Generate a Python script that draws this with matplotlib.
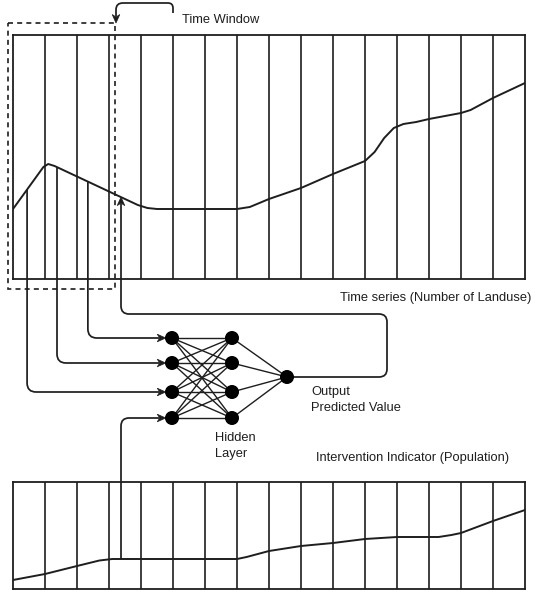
import numpy as np
import matplotlib
matplotlib.use("Agg")
import matplotlib.pyplot as plt
from matplotlib.path import Path
from matplotlib.patches import PathPatch, Circle, Polygon, Rectangle

# ---------------- data ----------------
n_columns = 16
top_t = [0, 0.95, 1.1, 1.3, 3.9, 4.2, 4.5, 7.0, 7.4, 8, 9, 10, 11, 11.3, 11.6, 11.9, 12.2, 12.6, 13, 14, 14.3, 15, 16]
top_v = [70, 112, 115, 113, 74, 71, 70, 70, 72, 80, 91, 105, 118, 127, 141, 151, 155, 157, 160, 166, 169, 181, 196]
bot_t = [0, 1, 2, 2.7, 3.1, 7, 7.3, 8, 9, 10, 11, 12, 13.3, 13.7, 14, 15, 16]
bot_v = [9, 15, 23, 28.5, 30, 30, 32, 38, 43, 46, 50, 52, 52, 54, 56, 68, 79]
tap_cols = [0.44, 1.375, 2.34]      # window taps feeding input nodes 3, 2, 1
feedback_col = 3.375
labels = {
    "window": "Time Window",
    "top": "Time series (Number of Landuse)",
    "out1": "Output",
    "out2": "Predicted Value",
    "hid1": "Hidden",
    "hid2": "Layer",
    "bottom": "Intervention Indicator (Population)",
}

# ---------------- layout (pixels) ----------------
W, H = 535, 592
LEFT, RIGHT = 13, 525
TOP_Y0, TOP_Y1 = 35, 279
BOT_Y0, BOT_Y1 = 482, 589
col_w = (RIGHT - LEFT) / n_columns
in_x, hid_x, out_x, out_y = 172, 232, 287, 377
node_y = [338, 363, 392, 418]
node_r = 6.3
INK = "#1e1e1e"
FONT = "Liberation Sans"
FS = 9.3

fig = plt.figure(figsize=(W / 100, H / 100), dpi=100)
fig.patch.set_facecolor("white")

def panel(y0, y1, t, v):
    ax = fig.add_axes([LEFT / W, (H - y1) / H, (RIGHT - LEFT) / W, (y1 - y0) / H])
    ax.set_xlim(0, n_columns)
    ax.set_ylim(0, y1 - y0)
    for k in range(1, n_columns):
        ax.axvline(k, color=INK, lw=1.2)
    ax.plot(t, v, color=INK, lw=1.4, solid_joinstyle="round")
    for s in ax.spines.values():
        s.set_color(INK)
        s.set_linewidth(1.3)
    ax.set_xticks([])
    ax.set_yticks([])
    return ax

panel(TOP_Y0, TOP_Y1, top_t, top_v)
panel(BOT_Y0, BOT_Y1, bot_t, bot_v)

ov = fig.add_axes([0, 0, 1, 1], zorder=5)
ov.set_xlim(0, W)
ov.set_ylim(H, 0)
ov.axis("off")
ov.patch.set_alpha(0)

def col2x(c):
    return LEFT + c * col_w

def top_y(c):
    return TOP_Y1 - np.interp(c, top_t, top_v)

def bot_y(c):
    return BOT_Y1 - np.interp(c, bot_t, bot_v)

def rpath(pts, r=8):
    pts = [np.array(p, float) for p in pts]
    verts, codes = [pts[0]], [Path.MOVETO]
    for i in range(1, len(pts) - 1):
        p0, p1, p2 = pts[i - 1], pts[i], pts[i + 1]
        d1 = (p1 - p0) / np.linalg.norm(p1 - p0)
        d2 = (p2 - p1) / np.linalg.norm(p2 - p1)
        rr = min(r, np.linalg.norm(p1 - p0) / 2, np.linalg.norm(p2 - p1) / 2)
        verts += [p1 - d1 * rr, p1, p1 + d2 * rr]
        codes += [Path.LINETO, Path.CURVE3, Path.CURVE3]
    verts.append(pts[-1])
    codes.append(Path.LINETO)
    ov.add_patch(PathPatch(Path(verts, codes), fill=False, ec=INK, lw=1.25,
                           capstyle="butt", joinstyle="round"))

def head(tip, d, L=8.5, Wd=3.8):
    tip = np.array(tip, float)
    d = np.array(d, float)
    d /= np.linalg.norm(d)
    p = np.array([-d[1], d[0]])
    back = tip - d * L
    notch = tip - d * L * 0.7
    ov.add_patch(Polygon([tip, back + p * Wd, notch, back - p * Wd],
                         closed=True, fc=INK, ec=INK, lw=0.5))

def arrow(pts, r=8, L=8.5):
    pts = [np.array(p, float) for p in pts]
    d = pts[-1] - pts[-2]
    d /= np.linalg.norm(d)
    tip = pts[-1]
    pts2 = pts[:-1] + [tip - d * L * 0.75]
    rpath(pts2, r)
    head(tip, d, L)

# dashed time window
ov.add_patch(Rectangle((8, 23), 107, 266, fill=False, ec=INK, lw=1.2,
                       ls=(0, (3, 2.5))))
# time-window shift arrow
arrow([(173, 13), (173, 3), (116, 3), (116, 23)], r=8)

# taps from window into input nodes (node index 2, 1, 0)
for c, ni in zip(tap_cols, [2, 1, 0]):
    x = col2x(c)
    arrow([(x, top_y(c)), (x, node_y[ni]), (in_x - node_r, node_y[ni])], r=9)

# intervention indicator into input node 3
xb = col2x(feedback_col)
arrow([(xb, bot_y(feedback_col)), (xb, node_y[3]), (in_x - node_r, node_y[3])], r=8)

# feedback from output back into the series
arrow([(out_x, out_y), (387, out_y), (387, 314), (xb, 314), (xb, top_y(feedback_col))], r=8)

# network edges
for yi in node_y:
    for yh in node_y:
        ov.plot([in_x, hid_x], [yi, yh], color=INK, lw=1.0)
for yh in node_y:
    ov.plot([hid_x, out_x], [yh, out_y], color=INK, lw=1.0)
for yi in node_y:
    ov.add_patch(Circle((in_x, yi), node_r, fc="black", ec="black", zorder=6))
    ov.add_patch(Circle((hid_x, yi), node_r, fc="black", ec="black", zorder=6))
ov.add_patch(Circle((out_x, out_y), node_r, fc="black", ec="black", zorder=6))

# texts
tk = dict(family=FONT, fontsize=FS, color=INK, va="center")
ov.text(182, 20, labels["window"], ha="left", **tk)
ov.text(531, 298, labels["top"], ha="right", **tk)
ov.text(311, 392, labels["out1"], ha="left", **tk)
ov.text(311, 408, labels["out2"], ha="left", **tk)
ov.text(215, 438, labels["hid1"], ha="left", **tk)
ov.text(215, 454, labels["hid2"], ha="left", **tk)
ov.text(316, 458, labels["bottom"], ha="left", **tk)

fig.savefig("out.png", dpi=100, facecolor="white")
